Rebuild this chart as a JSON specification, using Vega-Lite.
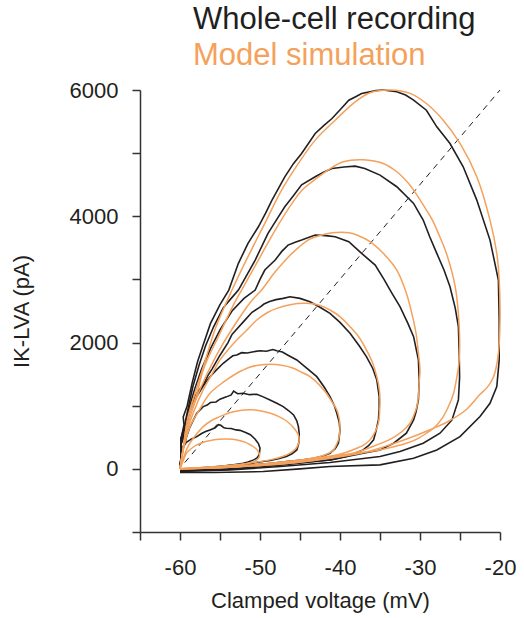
{
"$schema": "https://vega.github.io/schema/vega-lite/v6.json",
"width": 360, "height": 442,
"autosize": {"type": "none"},
"padding": {"left": 140, "top": 90, "right": 24, "bottom": 86},
"background": "white",
"config": {"view": {"stroke": null}, "font": "Liberation Sans"},
"title": {"text": "Whole-cell recording", "subtitle": "Model simulation", "anchor": "start", "frame": "group", "dx": 53, "fontSize": 31, "fontWeight": "normal", "color": "#231f20", "subtitleFontSize": 31, "subtitleColor": "#F4A15B", "subtitlePadding": 5, "offset": 7, "font": "Liberation Sans", "subtitleFont": "Liberation Sans"},
"datasets": {
"diag": [{"v": -59.4, "I": 100}, {"v": -20, "I": 6000}],
"rec": [
{"loop":50,"v":-60,"I":0},{"loop":50,"v":-59.9,"I":120},{"loop":50,"v":-59.7,"I":260},{"loop":50,"v":-59.8,"I":330},{"loop":50,"v":-59.6,"I":353},{"loop":50,"v":-59.2,"I":420},{"loop":50,"v":-58.6,"I":470},{"loop":50,"v":-57.9,"I":511},{"loop":50,"v":-57.3,"I":560},{"loop":50,"v":-56.8,"I":590},{"loop":50,"v":-56.25,"I":617},{"loop":50,"v":-55.6,"I":650},{"loop":50,"v":-55.2,"I":700},{"loop":50,"v":-54.9,"I":690},{"loop":50,"v":-54.5,"I":650},{"loop":50,"v":-54.2,"I":644},{"loop":50,"v":-53.6,"I":640},{"loop":50,"v":-53,"I":617},{"loop":50,"v":-52.5,"I":610},{"loop":50,"v":-51.8,"I":575},{"loop":50,"v":-51.2,"I":540},{"loop":50,"v":-50.6,"I":470},{"loop":50,"v":-50.2,"I":400},{"loop":50,"v":-50,"I":327},{"loop":50,"v":-50.1,"I":222},{"loop":50,"v":-50.4,"I":170},{"loop":50,"v":-50.8,"I":142},{"loop":50,"v":-51.5,"I":110},{"loop":50,"v":-52.1,"I":90},{"loop":50,"v":-53.5,"I":60},{"loop":50,"v":-55,"I":37},{"loop":50,"v":-57.9,"I":11},{"loop":50,"v":-60,"I":-10},
{"loop":45,"v":-60,"I":0},{"loop":45,"v":-59.8,"I":180},{"loop":45,"v":-59.9,"I":300},{"loop":45,"v":-59.5,"I":350},{"loop":45,"v":-59.2,"I":500},{"loop":45,"v":-58.8,"I":650},{"loop":45,"v":-58.3,"I":780},{"loop":45,"v":-57.9,"I":880},{"loop":45,"v":-57.1,"I":986},{"loop":45,"v":-56.6,"I":1010},{"loop":45,"v":-56.2,"I":1050},{"loop":45,"v":-55.5,"I":1060},{"loop":45,"v":-55,"I":1103},{"loop":45,"v":-54.2,"I":1140},{"loop":45,"v":-53.6,"I":1171},{"loop":45,"v":-53.3,"I":1230},{"loop":45,"v":-52.8,"I":1190},{"loop":45,"v":-52.1,"I":1198},{"loop":45,"v":-51.3,"I":1175},{"loop":45,"v":-50.4,"I":1182},{"loop":45,"v":-49.6,"I":1140},{"loop":45,"v":-48.75,"I":1092},{"loop":45,"v":-47.9,"I":1040},{"loop":45,"v":-47.1,"I":986},{"loop":45,"v":-46.4,"I":920},{"loop":45,"v":-45.8,"I":854},{"loop":45,"v":-45.4,"I":760},{"loop":45,"v":-45.2,"I":669},{"loop":45,"v":-45.1,"I":560},{"loop":45,"v":-45.1,"I":459},{"loop":45,"v":-45.2,"I":380},{"loop":45,"v":-45.4,"I":300},{"loop":45,"v":-46,"I":240},{"loop":45,"v":-46.7,"I":195},{"loop":45,"v":-47.7,"I":160},{"loop":45,"v":-48.75,"I":132},{"loop":45,"v":-50.8,"I":95},{"loop":45,"v":-52.9,"I":63},{"loop":45,"v":-55,"I":40},{"loop":45,"v":-57.1,"I":11},{"loop":45,"v":-60,"I":-10},
{"loop":40,"v":-60,"I":0},{"loop":40,"v":-59.8,"I":250},{"loop":40,"v":-59.9,"I":380},{"loop":40,"v":-59.5,"I":500},{"loop":40,"v":-59.2,"I":700},{"loop":40,"v":-58.8,"I":900},{"loop":40,"v":-58.3,"I":1050},{"loop":40,"v":-57.9,"I":1150},{"loop":40,"v":-57,"I":1330},{"loop":40,"v":-56.25,"I":1460},{"loop":40,"v":-55.5,"I":1560},{"loop":40,"v":-54.6,"I":1672},{"loop":40,"v":-53.9,"I":1740},{"loop":40,"v":-53.4,"I":1790},{"loop":40,"v":-52.9,"I":1804},{"loop":40,"v":-52.3,"I":1840},{"loop":40,"v":-51.6,"I":1835},{"loop":40,"v":-50.8,"I":1856},{"loop":40,"v":-50,"I":1870},{"loop":40,"v":-49.2,"I":1862},{"loop":40,"v":-48.4,"I":1890},{"loop":40,"v":-47.9,"I":1872},{"loop":40,"v":-47.2,"I":1850},{"loop":40,"v":-46.5,"I":1800},{"loop":40,"v":-45.4,"I":1725},{"loop":40,"v":-44.2,"I":1600},{"loop":40,"v":-42.9,"I":1460},{"loop":40,"v":-42,"I":1300},{"loop":40,"v":-41.25,"I":1144},{"loop":40,"v":-40.7,"I":1000},{"loop":40,"v":-40.4,"I":881},{"loop":40,"v":-40.1,"I":740},{"loop":40,"v":-40,"I":617},{"loop":40,"v":-40.1,"I":500},{"loop":40,"v":-40.2,"I":406},{"loop":40,"v":-40.6,"I":320},{"loop":40,"v":-41.25,"I":248},{"loop":40,"v":-42.2,"I":200},{"loop":40,"v":-43.3,"I":169},{"loop":40,"v":-44.8,"I":140},{"loop":40,"v":-46.7,"I":116},{"loop":40,"v":-48.6,"I":90},{"loop":40,"v":-50.8,"I":63},{"loop":40,"v":-54,"I":35},{"loop":40,"v":-57.1,"I":11},{"loop":40,"v":-60,"I":-20},
{"loop":35,"v":-60,"I":0},{"loop":35,"v":-59.8,"I":250},{"loop":35,"v":-59.9,"I":420},{"loop":35,"v":-59.5,"I":550},{"loop":35,"v":-59.2,"I":760},{"loop":35,"v":-58.8,"I":950},{"loop":35,"v":-57.9,"I":1200},{"loop":35,"v":-57,"I":1350},{"loop":35,"v":-56.5,"I":1480},{"loop":35,"v":-56,"I":1580},{"loop":35,"v":-55.5,"I":1690},{"loop":35,"v":-55,"I":1800},{"loop":35,"v":-54,"I":2000},{"loop":35,"v":-53.5,"I":2130},{"loop":35,"v":-53,"I":2200},{"loop":35,"v":-52,"I":2340},{"loop":35,"v":-51,"I":2480},{"loop":35,"v":-50,"I":2560},{"loop":35,"v":-49.5,"I":2610},{"loop":35,"v":-48.8,"I":2650},{"loop":35,"v":-48,"I":2680},{"loop":35,"v":-47.1,"I":2700},{"loop":35,"v":-46.25,"I":2726},{"loop":35,"v":-45,"I":2700},{"loop":35,"v":-43.75,"I":2647},{"loop":35,"v":-42.5,"I":2560},{"loop":35,"v":-41.25,"I":2463},{"loop":35,"v":-40,"I":2320},{"loop":35,"v":-38.75,"I":2147},{"loop":35,"v":-37.6,"I":1950},{"loop":35,"v":-36.7,"I":1777},{"loop":35,"v":-35.9,"I":1590},{"loop":35,"v":-35.4,"I":1408},{"loop":35,"v":-35.1,"I":1144},{"loop":35,"v":-35.1,"I":950},{"loop":35,"v":-35.2,"I":775},{"loop":35,"v":-35.5,"I":600},{"loop":35,"v":-35.8,"I":459},{"loop":35,"v":-36.4,"I":370},{"loop":35,"v":-37.1,"I":300},{"loop":35,"v":-39.2,"I":195},{"loop":35,"v":-41,"I":145},{"loop":35,"v":-43.3,"I":116},{"loop":35,"v":-46.5,"I":75},{"loop":35,"v":-49.6,"I":37},{"loop":35,"v":-55.8,"I":-16},{"loop":35,"v":-60,"I":-30},
{"loop":30,"v":-60,"I":0},{"loop":30,"v":-59.8,"I":300},{"loop":30,"v":-59.9,"I":450},{"loop":30,"v":-59.4,"I":650},{"loop":30,"v":-59.1,"I":820},{"loop":30,"v":-58.9,"I":950},{"loop":30,"v":-58.2,"I":1250},{"loop":30,"v":-57.3,"I":1580},{"loop":30,"v":-56.2,"I":1900},{"loop":30,"v":-55,"I":2200},{"loop":30,"v":-53.5,"I":2500},{"loop":30,"v":-52,"I":2700},{"loop":30,"v":-50.6,"I":2832},{"loop":30,"v":-50,"I":3000},{"loop":30,"v":-49.4,"I":3149},{"loop":30,"v":-48.1,"I":3307},{"loop":30,"v":-47.3,"I":3440},{"loop":30,"v":-46.5,"I":3544},{"loop":30,"v":-45.6,"I":3590},{"loop":30,"v":-44.8,"I":3623},{"loop":30,"v":-43.1,"I":3703},{"loop":30,"v":-42.5,"I":3700},{"loop":30,"v":-41.5,"I":3690},{"loop":30,"v":-40.6,"I":3676},{"loop":30,"v":-38.9,"I":3597},{"loop":30,"v":-37.3,"I":3413},{"loop":30,"v":-35.6,"I":3228},{"loop":30,"v":-34.5,"I":3000},{"loop":30,"v":-33.5,"I":2780},{"loop":30,"v":-32.5,"I":2568},{"loop":30,"v":-31.5,"I":2300},{"loop":30,"v":-30.8,"I":2093},{"loop":30,"v":-30.2,"I":1725},{"loop":30,"v":-30.1,"I":1408},{"loop":30,"v":-30.2,"I":1092},{"loop":30,"v":-30.5,"I":900},{"loop":30,"v":-30.8,"I":775},{"loop":30,"v":-31.7,"I":564},{"loop":30,"v":-33.3,"I":406},{"loop":30,"v":-35,"I":300},{"loop":30,"v":-37.1,"I":248},{"loop":30,"v":-41.25,"I":142},{"loop":30,"v":-47.5,"I":63},{"loop":30,"v":-53.75,"I":-5},{"loop":30,"v":-60,"I":-30},
{"loop":25,"v":-60,"I":0},{"loop":25,"v":-59.8,"I":300},{"loop":25,"v":-59.9,"I":480},{"loop":25,"v":-59.5,"I":650},{"loop":25,"v":-59,"I":950},{"loop":25,"v":-58.4,"I":1300},{"loop":25,"v":-57.6,"I":1650},{"loop":25,"v":-56.8,"I":1950},{"loop":25,"v":-55.8,"I":2250},{"loop":25,"v":-54.6,"I":2550},{"loop":25,"v":-53.6,"I":2700},{"loop":25,"v":-52.7,"I":2832},{"loop":25,"v":-51.6,"I":3080},{"loop":25,"v":-50.6,"I":3307},{"loop":25,"v":-49,"I":3729},{"loop":25,"v":-47.9,"I":3950},{"loop":25,"v":-46.9,"I":4151},{"loop":25,"v":-45.8,"I":4330},{"loop":25,"v":-44.8,"I":4499},{"loop":25,"v":-43.1,"I":4625},{"loop":25,"v":-42,"I":4700},{"loop":25,"v":-41,"I":4757},{"loop":25,"v":-39.5,"I":4780},{"loop":25,"v":-38.1,"I":4794},{"loop":25,"v":-36.9,"I":4757},{"loop":25,"v":-35,"I":4652},{"loop":25,"v":-32.9,"I":4468},{"loop":25,"v":-30.8,"I":4204},{"loop":25,"v":-29.6,"I":3940},{"loop":25,"v":-28.8,"I":3680},{"loop":25,"v":-27.9,"I":3413},{"loop":25,"v":-27,"I":3150},{"loop":25,"v":-26.25,"I":2885},{"loop":25,"v":-25.6,"I":2550},{"loop":25,"v":-25.2,"I":2252},{"loop":25,"v":-25.1,"I":1830},{"loop":25,"v":-25.05,"I":1450},{"loop":25,"v":-25.2,"I":1092},{"loop":25,"v":-26,"I":775},{"loop":25,"v":-27.5,"I":564},{"loop":25,"v":-29.6,"I":406},{"loop":25,"v":-32.5,"I":274},{"loop":25,"v":-35,"I":195},{"loop":25,"v":-41.25,"I":100},{"loop":25,"v":-47.5,"I":37},{"loop":25,"v":-53.75,"I":-16},{"loop":25,"v":-60,"I":-40},
{"loop":20,"v":-60,"I":0},{"loop":20,"v":-59.8,"I":300},{"loop":20,"v":-59.9,"I":450},{"loop":20,"v":-59.5,"I":700},{"loop":20,"v":-59.6,"I":820},{"loop":20,"v":-59.1,"I":1000},{"loop":20,"v":-58.5,"I":1350},{"loop":20,"v":-57.8,"I":1700},{"loop":20,"v":-57,"I":2000},{"loop":20,"v":-56.2,"I":2300},{"loop":20,"v":-55,"I":2600},{"loop":20,"v":-53.9,"I":2832},{"loop":20,"v":-52.7,"I":3255},{"loop":20,"v":-51.5,"I":3571},{"loop":20,"v":-50.2,"I":3834},{"loop":20,"v":-49.3,"I":4050},{"loop":20,"v":-48.5,"I":4256},{"loop":20,"v":-46.9,"I":4625},{"loop":20,"v":-45.8,"I":4837},{"loop":20,"v":-44.8,"I":4994},{"loop":20,"v":-43.1,"I":5311},{"loop":20,"v":-42,"I":5440},{"loop":20,"v":-41,"I":5548},{"loop":20,"v":-39.9,"I":5700},{"loop":20,"v":-38.9,"I":5838},{"loop":20,"v":-38.1,"I":5890},{"loop":20,"v":-37.3,"I":5944},{"loop":20,"v":-35.5,"I":5990},{"loop":20,"v":-34.6,"I":6000},{"loop":20,"v":-32.9,"I":5973},{"loop":20,"v":-31.8,"I":5920},{"loop":20,"v":-30.8,"I":5840},{"loop":20,"v":-29.2,"I":5680},{"loop":20,"v":-27.9,"I":5417},{"loop":20,"v":-26.25,"I":5153},{"loop":20,"v":-24.6,"I":4784},{"loop":20,"v":-22.9,"I":4256},{"loop":20,"v":-21.25,"I":3623},{"loop":20,"v":-20.2,"I":2990},{"loop":20,"v":-20.1,"I":2357},{"loop":20,"v":-20.1,"I":1725},{"loop":20,"v":-20.4,"I":1302},{"loop":20,"v":-21.25,"I":1039},{"loop":20,"v":-22.5,"I":828},{"loop":20,"v":-25,"I":511},{"loop":20,"v":-27.9,"I":300},{"loop":20,"v":-30.8,"I":169},{"loop":20,"v":-35,"I":63},{"loop":20,"v":-41.25,"I":37},{"loop":20,"v":-45,"I":0},{"loop":20,"v":-49.6,"I":-43},{"loop":20,"v":-55.8,"I":-58},{"loop":20,"v":-60,"I":-58}
],
"model": [
{"loop":50,"v":-60,"I":0},{"loop":50,"v":-59.6,"I":130},{"loop":50,"v":-59.2,"I":248},{"loop":50,"v":-58.5,"I":330},{"loop":50,"v":-57.9,"I":380},{"loop":50,"v":-57,"I":425},{"loop":50,"v":-56.2,"I":450},{"loop":50,"v":-55.2,"I":468},{"loop":50,"v":-54.3,"I":474},{"loop":50,"v":-53.4,"I":468},{"loop":50,"v":-52.6,"I":450},{"loop":50,"v":-51.8,"I":420},{"loop":50,"v":-51.2,"I":380},{"loop":50,"v":-50.6,"I":330},{"loop":50,"v":-50.2,"I":274},{"loop":50,"v":-50.05,"I":220},{"loop":50,"v":-50.2,"I":165},{"loop":50,"v":-50.6,"I":125},{"loop":50,"v":-51.2,"I":98},{"loop":50,"v":-52,"I":75},{"loop":50,"v":-53.2,"I":55},{"loop":50,"v":-55,"I":38},{"loop":50,"v":-57.5,"I":18},{"loop":50,"v":-60,"I":0},
{"loop":45,"v":-60,"I":0},{"loop":45,"v":-59.5,"I":200},{"loop":45,"v":-58.9,"I":380},{"loop":45,"v":-58,"I":540},{"loop":45,"v":-57.1,"I":669},{"loop":45,"v":-56,"I":770},{"loop":45,"v":-55,"I":828},{"loop":45,"v":-53.8,"I":890},{"loop":45,"v":-52.5,"I":925},{"loop":45,"v":-51.2,"I":935},{"loop":45,"v":-50,"I":922},{"loop":45,"v":-48.8,"I":885},{"loop":45,"v":-47.7,"I":830},{"loop":45,"v":-46.6,"I":750},{"loop":45,"v":-45.8,"I":650},{"loop":45,"v":-45.25,"I":550},{"loop":45,"v":-45.1,"I":460},{"loop":45,"v":-45.25,"I":380},{"loop":45,"v":-45.6,"I":310},{"loop":45,"v":-46.25,"I":248},{"loop":45,"v":-47.2,"I":195},{"loop":45,"v":-48.5,"I":150},{"loop":45,"v":-50.8,"I":100},{"loop":45,"v":-53,"I":65},{"loop":45,"v":-55.5,"I":38},{"loop":45,"v":-58,"I":15},{"loop":45,"v":-60,"I":0},
{"loop":40,"v":-60,"I":0},{"loop":40,"v":-59.6,"I":300},{"loop":40,"v":-58.75,"I":669},{"loop":40,"v":-57.6,"I":930},{"loop":40,"v":-56.25,"I":1198},{"loop":40,"v":-54.5,"I":1380},{"loop":40,"v":-52.9,"I":1514},{"loop":40,"v":-51.3,"I":1610},{"loop":40,"v":-50,"I":1645},{"loop":40,"v":-48.75,"I":1657},{"loop":40,"v":-47.3,"I":1640},{"loop":40,"v":-46,"I":1600},{"loop":40,"v":-44.8,"I":1530},{"loop":40,"v":-43.75,"I":1460},{"loop":40,"v":-42.6,"I":1330},{"loop":40,"v":-41.7,"I":1198},{"loop":40,"v":-41,"I":1060},{"loop":40,"v":-40.4,"I":934},{"loop":40,"v":-40.1,"I":800},{"loop":40,"v":-40,"I":669},{"loop":40,"v":-40.05,"I":560},{"loop":40,"v":-40.2,"I":459},{"loop":40,"v":-40.5,"I":370},{"loop":40,"v":-40.8,"I":300},{"loop":40,"v":-41.5,"I":240},{"loop":40,"v":-42.5,"I":195},{"loop":40,"v":-44,"I":155},{"loop":40,"v":-45.4,"I":132},{"loop":40,"v":-47.5,"I":100},{"loop":40,"v":-50.8,"I":63},{"loop":40,"v":-53.5,"I":38},{"loop":40,"v":-55.8,"I":24},{"loop":40,"v":-58,"I":11},{"loop":40,"v":-60,"I":0},
{"loop":35,"v":-60,"I":0},{"loop":35,"v":-59.6,"I":300},{"loop":35,"v":-59.2,"I":564},{"loop":35,"v":-58.3,"I":900},{"loop":35,"v":-57.1,"I":1250},{"loop":35,"v":-56,"I":1500},{"loop":35,"v":-55,"I":1725},{"loop":35,"v":-53.9,"I":1900},{"loop":35,"v":-52.9,"I":2041},{"loop":35,"v":-51.7,"I":2190},{"loop":35,"v":-50.4,"I":2357},{"loop":35,"v":-49,"I":2480},{"loop":35,"v":-47.9,"I":2542},{"loop":35,"v":-46.25,"I":2600},{"loop":35,"v":-44.2,"I":2621},{"loop":35,"v":-42.6,"I":2590},{"loop":35,"v":-41.25,"I":2516},{"loop":35,"v":-39.9,"I":2400},{"loop":35,"v":-38.75,"I":2252},{"loop":35,"v":-37.6,"I":2080},{"loop":35,"v":-36.7,"I":1883},{"loop":35,"v":-35.9,"I":1670},{"loop":35,"v":-35.4,"I":1460},{"loop":35,"v":-35.1,"I":1270},{"loop":35,"v":-35,"I":1092},{"loop":35,"v":-35.05,"I":900},{"loop":35,"v":-35.2,"I":722},{"loop":35,"v":-35.6,"I":590},{"loop":35,"v":-36.25,"I":459},{"loop":35,"v":-37,"I":380},{"loop":35,"v":-37.9,"I":327},{"loop":35,"v":-39.5,"I":250},{"loop":35,"v":-41.25,"I":195},{"loop":35,"v":-44,"I":140},{"loop":35,"v":-47.5,"I":90},{"loop":35,"v":-50.5,"I":58},{"loop":35,"v":-53.75,"I":26},{"loop":35,"v":-57,"I":10},{"loop":35,"v":-60,"I":0},
{"loop":30,"v":-60,"I":0},{"loop":30,"v":-59.6,"I":300},{"loop":30,"v":-59,"I":700},{"loop":30,"v":-58,"I":1100},{"loop":30,"v":-57,"I":1400},{"loop":30,"v":-55,"I":1900},{"loop":30,"v":-52.9,"I":2330},{"loop":30,"v":-51.2,"I":2640},{"loop":30,"v":-49.8,"I":2832},{"loop":30,"v":-48.1,"I":3122},{"loop":30,"v":-47,"I":3280},{"loop":30,"v":-46,"I":3413},{"loop":30,"v":-44,"I":3623},{"loop":30,"v":-42.9,"I":3680},{"loop":30,"v":-41.5,"I":3729},{"loop":30,"v":-40.4,"I":3745},{"loop":30,"v":-38.9,"I":3740},{"loop":30,"v":-37.9,"I":3703},{"loop":30,"v":-36.25,"I":3597},{"loop":30,"v":-34.6,"I":3413},{"loop":30,"v":-32.9,"I":3149},{"loop":30,"v":-31.7,"I":2780},{"loop":30,"v":-31,"I":2450},{"loop":30,"v":-30.5,"I":2150},{"loop":30,"v":-30.2,"I":1830},{"loop":30,"v":-30,"I":1566},{"loop":30,"v":-30.1,"I":1380},{"loop":30,"v":-30.2,"I":1144},{"loop":30,"v":-30.4,"I":986},{"loop":30,"v":-30.8,"I":840},{"loop":30,"v":-31.25,"I":722},{"loop":30,"v":-32,"I":620},{"loop":30,"v":-32.9,"I":530},{"loop":30,"v":-34,"I":450},{"loop":30,"v":-35.4,"I":380},{"loop":30,"v":-37,"I":300},{"loop":30,"v":-39.2,"I":222},{"loop":30,"v":-42,"I":160},{"loop":30,"v":-45.4,"I":100},{"loop":30,"v":-49,"I":60},{"loop":30,"v":-53.75,"I":26},{"loop":30,"v":-57,"I":10},{"loop":30,"v":-60,"I":0},
{"loop":25,"v":-60,"I":0},{"loop":25,"v":-59.6,"I":320},{"loop":25,"v":-59,"I":800},{"loop":25,"v":-58,"I":1150},{"loop":25,"v":-57,"I":1600},{"loop":25,"v":-55,"I":2150},{"loop":25,"v":-53.5,"I":2550},{"loop":25,"v":-52.3,"I":2832},{"loop":25,"v":-50.2,"I":3307},{"loop":25,"v":-48.1,"I":3782},{"loop":25,"v":-46,"I":4204},{"loop":25,"v":-44.7,"I":4420},{"loop":25,"v":-43.5,"I":4546},{"loop":25,"v":-41.5,"I":4731},{"loop":25,"v":-39.6,"I":4863},{"loop":25,"v":-37.1,"I":4895},{"loop":25,"v":-34.6,"I":4836},{"loop":25,"v":-32.9,"I":4705},{"loop":25,"v":-31.5,"I":4530},{"loop":25,"v":-30.8,"I":4414},{"loop":25,"v":-29.7,"I":4200},{"loop":25,"v":-28.5,"I":3950},{"loop":25,"v":-27.6,"I":3700},{"loop":25,"v":-26.7,"I":3413},{"loop":25,"v":-25.6,"I":2885},{"loop":25,"v":-25.1,"I":2252},{"loop":25,"v":-25.1,"I":1725},{"loop":25,"v":-25.4,"I":1450},{"loop":25,"v":-25.8,"I":1198},{"loop":25,"v":-26.4,"I":1000},{"loop":25,"v":-27.1,"I":828},{"loop":25,"v":-28,"I":680},{"loop":25,"v":-29.2,"I":564},{"loop":25,"v":-30.4,"I":470},{"loop":25,"v":-31.7,"I":406},{"loop":25,"v":-33.3,"I":350},{"loop":25,"v":-35,"I":300},{"loop":25,"v":-37.5,"I":255},{"loop":25,"v":-41.25,"I":200},{"loop":25,"v":-44,"I":150},{"loop":25,"v":-47.5,"I":105},{"loop":25,"v":-50.5,"I":65},{"loop":25,"v":-53.75,"I":35},{"loop":25,"v":-57,"I":12},{"loop":25,"v":-60,"I":0},
{"loop":20,"v":-60,"I":0},{"loop":20,"v":-59.6,"I":330},{"loop":20,"v":-59,"I":820},{"loop":20,"v":-58,"I":1250},{"loop":20,"v":-57,"I":1650},{"loop":20,"v":-55.5,"I":2250},{"loop":20,"v":-53.5,"I":2832},{"loop":20,"v":-51.5,"I":3360},{"loop":20,"v":-49.4,"I":3888},{"loop":20,"v":-47.3,"I":4414},{"loop":20,"v":-45.2,"I":4837},{"loop":20,"v":-43.1,"I":5206},{"loop":20,"v":-40.6,"I":5522},{"loop":20,"v":-38.1,"I":5812},{"loop":20,"v":-36.25,"I":5957},{"loop":20,"v":-33.75,"I":6000},{"loop":20,"v":-31.25,"I":5947},{"loop":20,"v":-29.2,"I":5786},{"loop":20,"v":-27.1,"I":5522},{"loop":20,"v":-25,"I":5153},{"loop":20,"v":-22.9,"I":4626},{"loop":20,"v":-21.25,"I":3940},{"loop":20,"v":-20.4,"I":3413},{"loop":20,"v":-20.1,"I":2990},{"loop":20,"v":-20,"I":2357},{"loop":20,"v":-20.2,"I":1830},{"loop":20,"v":-20.8,"I":1460},{"loop":20,"v":-21.6,"I":1290},{"loop":20,"v":-22.5,"I":1180},{"loop":20,"v":-24.2,"I":940},{"loop":20,"v":-26.5,"I":750},{"loop":20,"v":-28.75,"I":620},{"loop":20,"v":-31.5,"I":480},{"loop":20,"v":-34,"I":370},{"loop":20,"v":-37,"I":260},{"loop":20,"v":-41,"I":170},{"loop":20,"v":-45.4,"I":100},{"loop":20,"v":-50,"I":55},{"loop":20,"v":-54,"I":30},{"loop":20,"v":-57,"I":12},{"loop":20,"v":-60,"I":0}
]
},
"encoding": {
"x": {"field": "v", "type": "quantitative", "scale": {"domain": [-65, -20], "nice": false, "zero": false},
 "axis": {"title": "Clamped voltage (mV)", "values": [-65,-60,-55,-50,-45,-40,-35,-30,-25,-20], "labelExpr": "datum.value % 10 === 0 ? '' + datum.value : ''", "grid": false, "domainColor": "#333333", "domainWidth": 1.5, "tickColor": "#333333", "tickWidth": 1.5, "tickSize": 8, "labelFontSize": 22, "labelColor": "#231f20", "labelPadding": 17, "labelFlush": false, "labelOverlap": false, "titleFontSize": 22, "titleFontWeight": "normal", "titleColor": "#231f20", "titlePadding": 12, "labelFont": "Liberation Sans", "titleFont": "Liberation Sans"}},
"y": {"field": "I", "type": "quantitative", "scale": {"domain": [-1000, 6000], "nice": false, "zero": false},
 "axis": {"title": "IK-LVA (pA)", "values": [-1000,0,1000,2000,3000,4000,5000,6000], "labelExpr": "datum.value % 2000 === 0 ? '' + datum.value : ''", "grid": false, "domainColor": "#333333", "domainWidth": 1.5, "tickColor": "#333333", "tickWidth": 1.5, "tickSize": 8, "labelFontSize": 22, "labelColor": "#231f20", "labelPadding": 14, "labelOverlap": false, "labelFlush": false, "titleFontSize": 22, "titleFontWeight": "normal", "titleColor": "#231f20", "titlePadding": 36, "labelFont": "Liberation Sans", "titleFont": "Liberation Sans"}}
},
"layer": [
{"data": {"name": "diag"}, "mark": {"type": "line", "strokeDash": [6, 5], "strokeWidth": 1, "color": "#231f20"}, "encoding": {}},
{"data": {"name": "rec"}, "mark": {"type": "line", "color": "#231f20", "strokeWidth": 1.6}, "encoding": {"detail": {"field": "loop", "type": "nominal"}, "order": {"value": null}}},
{"data": {"name": "model"}, "mark": {"type": "line", "color": "#F4A15B", "strokeWidth": 1.5, "interpolate": "catmull-rom"}, "encoding": {"detail": {"field": "loop", "type": "nominal"}, "order": {"value": null}}}
]
}
